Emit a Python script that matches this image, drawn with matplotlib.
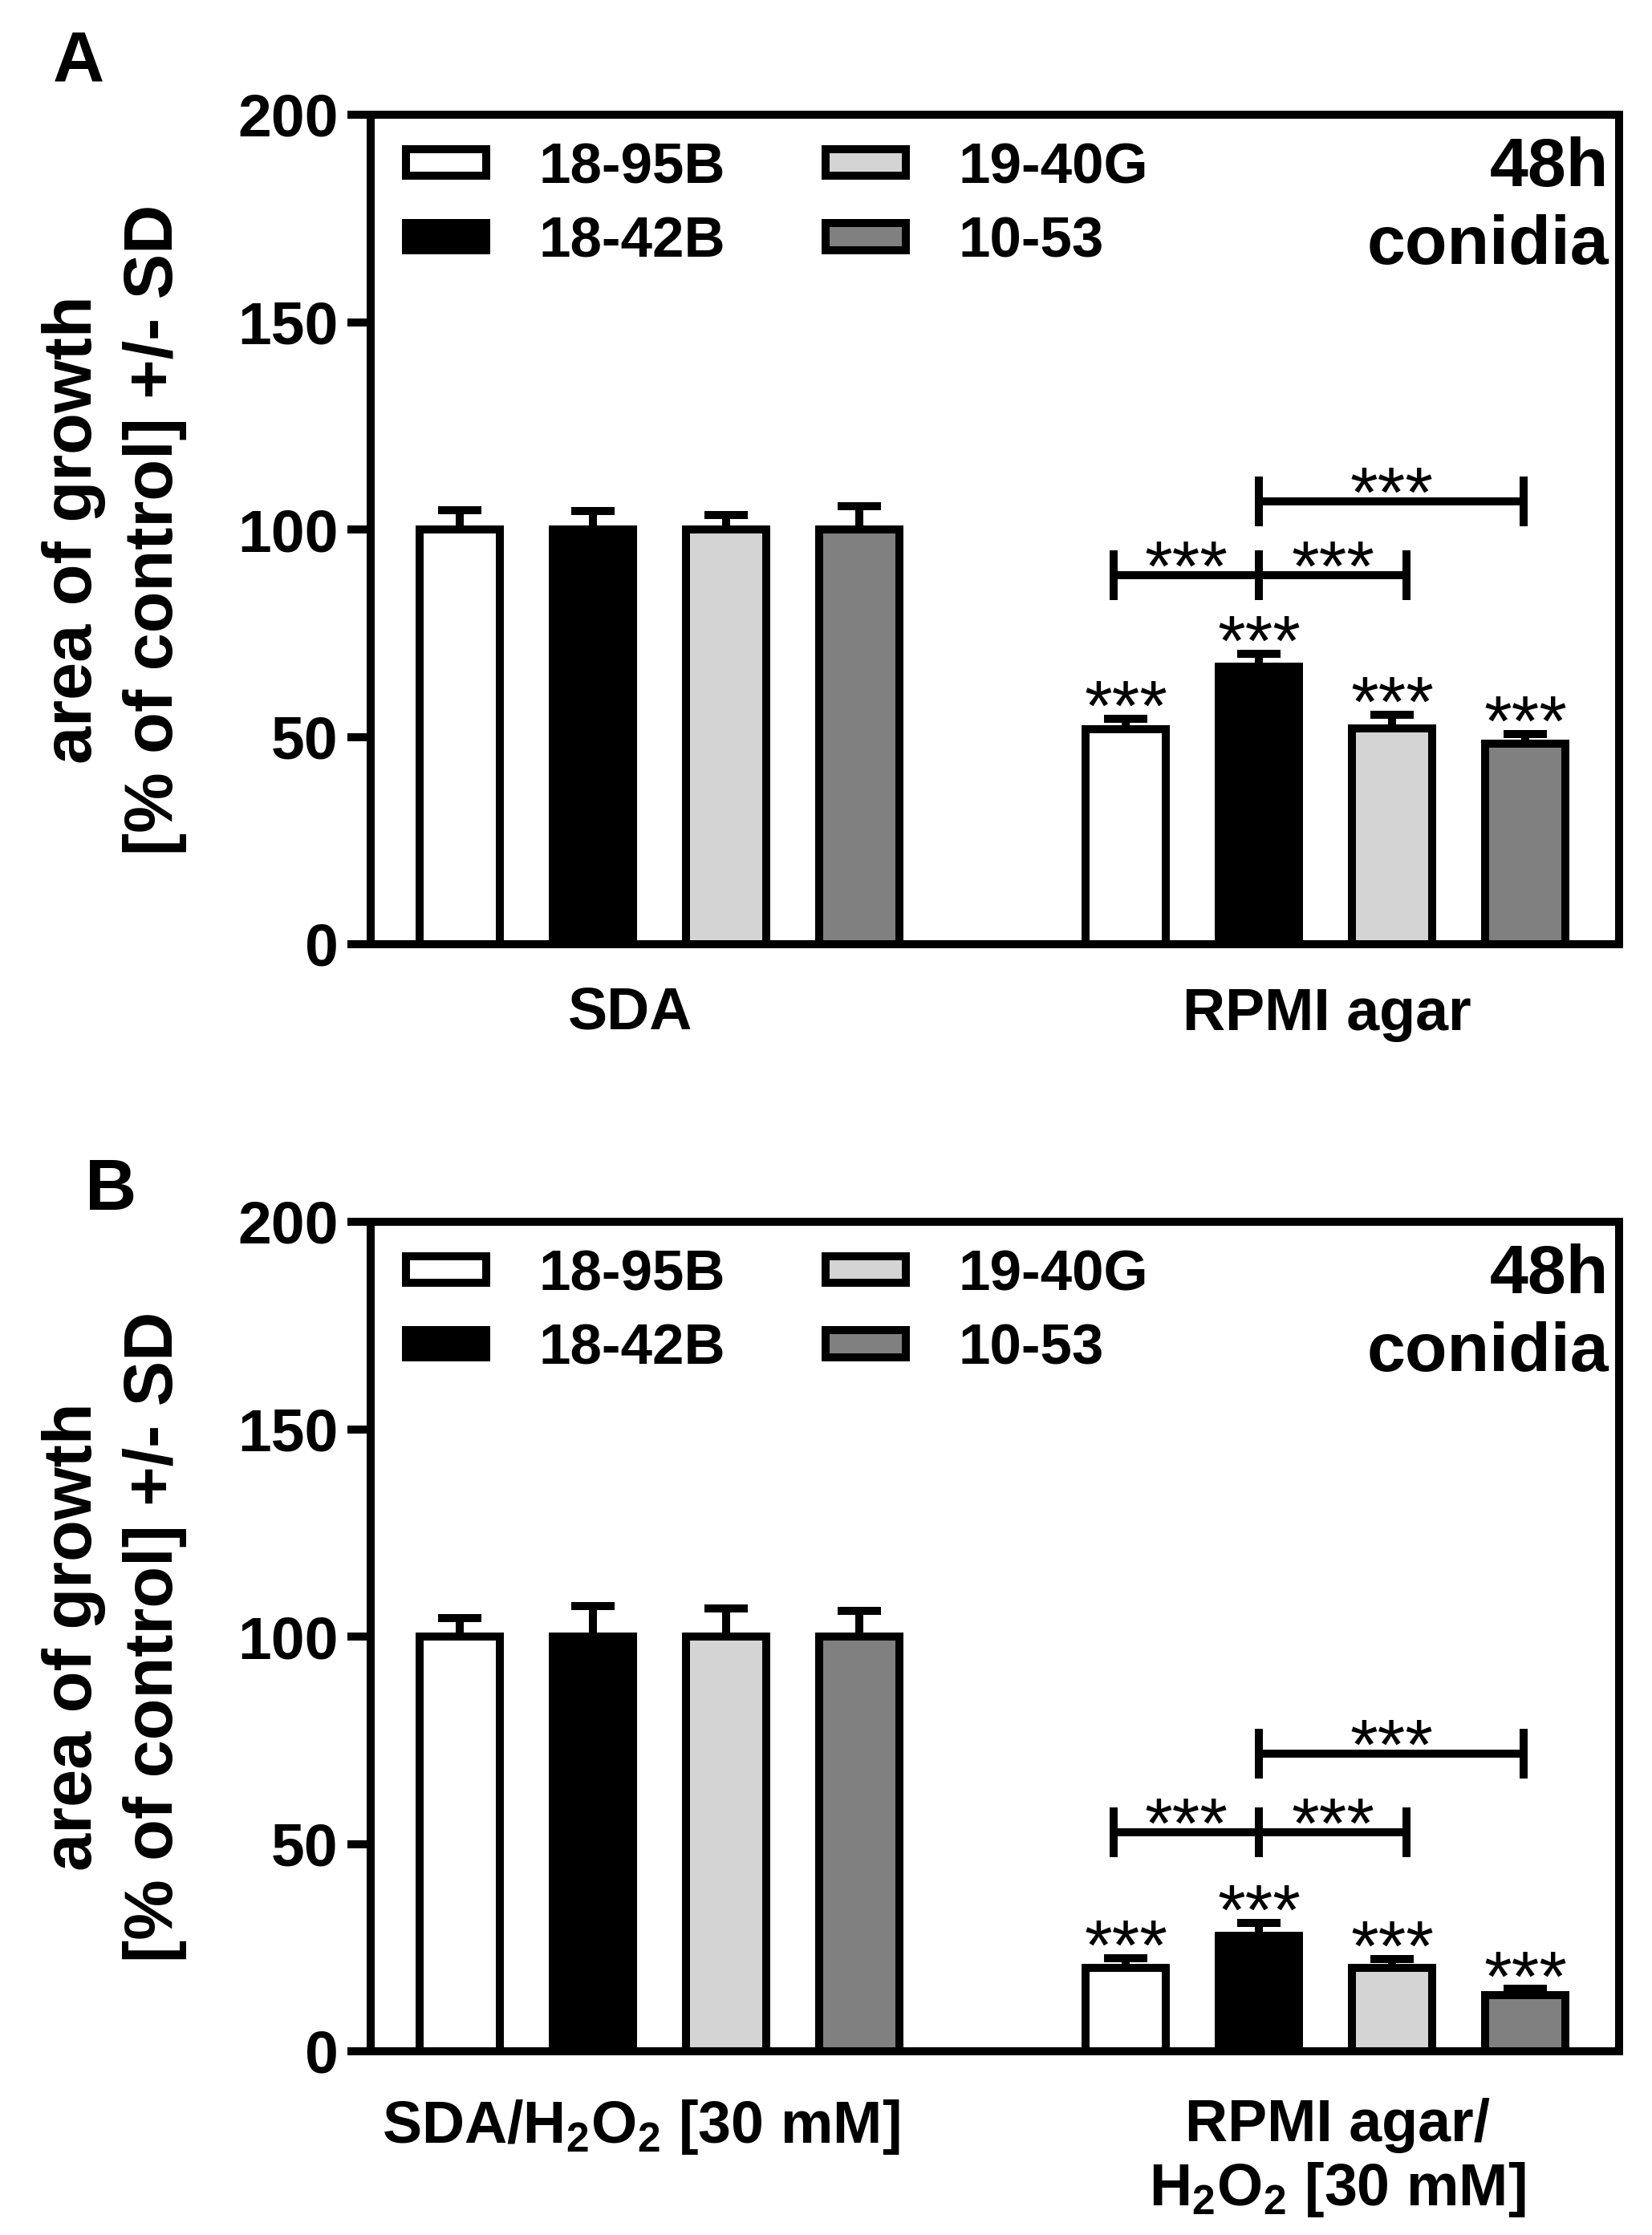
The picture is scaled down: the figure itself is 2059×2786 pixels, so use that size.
import matplotlib
matplotlib.use("Agg")
import matplotlib.pyplot as plt
import numpy as np

plt.rcParams['font.family'] = ['Liberation Sans', 'DejaVu Sans']
plt.rcParams['font.weight'] = 'bold'
plt.rcParams['axes.labelweight'] = 'bold'
plt.rcParams['mathtext.fontset'] = 'custom'
plt.rcParams['mathtext.rm'] = 'Liberation Sans:bold'
plt.rcParams['mathtext.bf'] = 'Liberation Sans:bold'
plt.rcParams['mathtext.it'] = 'Liberation Sans:bold'
plt.rcParams['mathtext.default'] = 'rm'

# ===== DATA =====
strains = ["18-95B", "18-42B", "19-40G", "10-53"]
colors = ["white", "black", "#d4d4d4", "#808080"]

# panel A
a_sda_mean = [100, 100, 100, 100]
a_sda_sd = [4.7, 4.5, 3.5, 5.7]
a_rpmi_mean = [51.8, 66.9, 52.0, 48.4]
a_rpmi_sd = [2.6, 3.1, 3.4, 2.3]
a_brackets = [(4.91, 6.0, 89.0), (6.0, 7.11, 89.0), (6.0, 7.99, 106.8)]
a_groups = ["SDA", "RPMI agar"]

# panel B
b_sda_mean = [100, 100, 100, 100]
b_sda_sd = [4.4, 7.3, 6.7, 6.1]
b_rpmi_mean = [20.1, 27.8, 20.1, 13.6]
b_rpmi_sd = [2.4, 3.2, 2.1, 1.4]
b_brackets = [(4.91, 6.0, 52.8), (6.0, 7.11, 52.8), (6.0, 7.99, 71.8)]
b_groups = ["SDA/H$_2$O$_2$ [30 mM]", "RPMI agar/\nH$_2$O$_2$ [30 mM]"]

yticks = [0, 50, 100, 150, 200]

LW = 7.2  # ~10 px


def draw_panel(ax, sda_mean, sda_sd, rpmi_mean, rpmi_sd, brackets, groups, group_pos, label_pad):
    handles = []
    for i, name in enumerate(strains):
        xs = [i, i + 5]
        vals = [sda_mean[i], rpmi_mean[i]]
        sds = [sda_sd[i], rpmi_sd[i]]
        ax.errorbar(xs, vals, yerr=[[0, 0], sds], fmt='none', ecolor='black',
                    elinewidth=LW, capsize=19.4, capthick=LW, zorder=2)
        b = ax.bar(xs, vals, width=0.6, color=colors[i], edgecolor='black',
                   linewidth=LW, label=name, zorder=3)
        handles.append(b)
        # significance vs control
        ax.annotate("***", xy=(i + 5, rpmi_mean[i] + rpmi_sd[i]), xytext=(0, -10),
                    textcoords='offset points', ha='center', va='baseline',
                    fontsize=64, fontweight='normal')

    for x1, x2, y in brackets:
        ax.plot([x1, x2], [y, y], color='black', lw=LW, solid_capstyle='butt')
        for xe in (x1, x2):
            ax.plot([xe, xe], [y - 6, y + 6], color='black', lw=LW, solid_capstyle='butt')
        ax.annotate("***", xy=((x1 + x2) / 2, y), xytext=(0, -13.5),
                    textcoords='offset points', ha='center', va='baseline',
                    fontsize=64, fontweight='normal')

    ax.set_xlim(-0.67, 8.705)
    ax.set_ylim(0, 200)
    ax.set_yticks(yticks)
    ax.set_xticks(group_pos)
    ax.set_xticklabels(groups)
    for t in ax.get_xticklabels():
        t.set_linespacing(1.15)
    ax.tick_params(axis='y', length=21, width=LW, labelsize=54, pad=8)
    ax.tick_params(axis='x', length=0, labelsize=53, pad=label_pad)
    for sp in ax.spines.values():
        sp.set_linewidth(LW)

    ax.set_ylabel("area of growth\n[% of control] +/- SD", fontsize=61,
                  fontweight='bold', linespacing=1.35)
    ax.yaxis.set_label_coords(-0.147, 0.5)

    ax.legend(handles=handles, loc='upper left', bbox_to_anchor=(0.0283, 0.967), ncol=2,
              frameon=False, fontsize=51, handlelength=1.41, handleheight=0.35,
              handletextpad=0.93, columnspacing=1.76, labelspacing=0.37,
              borderpad=0, borderaxespad=0)
    ax.text(0.9916, 0.974, "48h\nconidia", transform=ax.transAxes, ha='right', va='top',
            fontsize=62, linespacing=1.28, multialignment='right')


fig = plt.figure(figsize=(20.59, 27.86), dpi=100)
W, H = 2059, 2786
left = 462 / W
width = (2018 - 462) / W
height = (1177 - 143) / H

axA = fig.add_axes([left, 1 - 1177 / H, width, height])
draw_panel(axA, a_sda_mean, a_sda_sd, a_rpmi_mean, a_rpmi_sd, a_brackets,
           a_groups, [1.28, 6.51], 38)

axB = fig.add_axes([left, 1 - 2557 / H, width, height])
draw_panel(axB, b_sda_mean, b_sda_sd, b_rpmi_mean, b_rpmi_sd, b_brackets,
           b_groups, [1.36, 6.59], 42)

fig.text(66 / W, 1 - 38 / H, "A", fontsize=64, ha='left', va='top')
fig.text(106 / W, 1 - 1443 / H, "B", fontsize=64, ha='left', va='top')

fig.savefig("out.png", dpi=100)
